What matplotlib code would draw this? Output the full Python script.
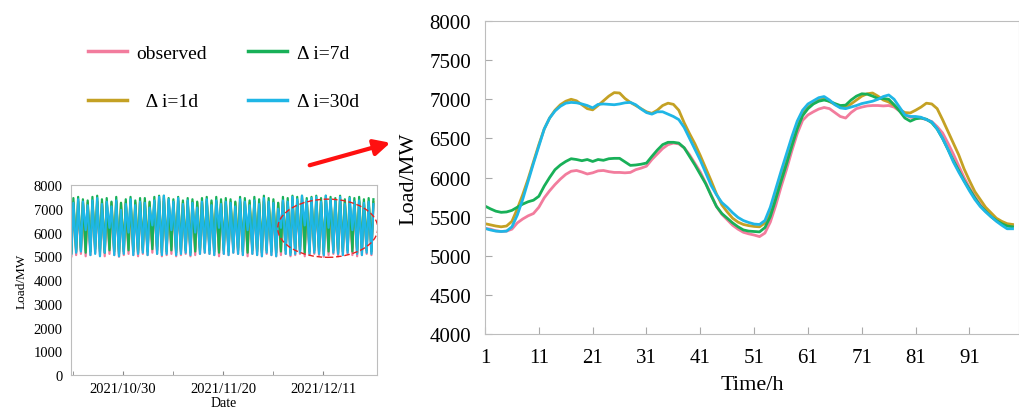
import matplotlib
matplotlib.use("Agg")
import matplotlib.pyplot as plt
import matplotlib.dates as mdates
from matplotlib.patches import Ellipse
from matplotlib.lines import Line2D
import numpy as np
import pandas as pd

plt.rcParams['font.family'] = ['Liberation Serif', 'DejaVu Serif']

# ---------------- zoomed window (right panel) ----------------
hours = list(range(1, 100))

observed = [5350, 5340, 5320, 5310, 5315, 5340, 5420, 5470, 5510, 5540,
            5620, 5740, 5830, 5910, 5980, 6040, 6080, 6090, 6070, 6045,
            6060, 6085, 6090, 6075, 6065, 6065, 6060, 6065, 6100, 6120,
            6145, 6230, 6300, 6370, 6420, 6440, 6430, 6380, 6290, 6180,
            6070, 5930, 5780, 5630, 5530, 5460, 5390, 5340, 5300, 5280,
            5265, 5245, 5290, 5430, 5640, 5880, 6100, 6340, 6560, 6730,
            6800, 6840, 6875, 6895, 6880, 6830, 6780, 6760, 6830, 6880,
            6900, 6915, 6920, 6920, 6915, 6920, 6900, 6850, 6800, 6770,
            6765, 6760, 6740, 6715, 6650, 6570, 6440, 6300, 6150, 6000,
            5870, 5760, 5660, 5580, 5510, 5450, 5420, 5400, 5390]

di_1d = [5410, 5395, 5380, 5370, 5380, 5440, 5600, 5780, 5980, 6200,
         6420, 6620, 6760, 6860, 6930, 6975, 7000, 6980, 6930, 6880,
         6865, 6920, 6980, 7040, 7085, 7080, 7010, 6960, 6920, 6880,
         6840, 6820, 6860, 6920, 6950, 6935, 6860, 6700, 6560, 6430,
         6280, 6120, 5960, 5790, 5650, 5560, 5480, 5430, 5400, 5385,
         5375, 5370, 5420, 5560, 5760, 5990, 6220, 6450, 6660, 6820,
         6900, 6950, 6990, 7005, 6970, 6935, 6905, 6895, 6940, 6990,
         7040, 7070, 7080, 7040, 6990, 6965, 6920, 6870, 6830, 6825,
         6860, 6900, 6950, 6940, 6880, 6740, 6590, 6440, 6290, 6110,
         5960, 5820, 5720, 5620, 5550, 5480, 5440, 5410, 5400]

di_7d = [5635, 5600, 5570, 5555, 5560, 5580, 5620, 5660, 5690, 5710,
         5760, 5890, 6000, 6100, 6160, 6205, 6240, 6230, 6215, 6230,
         6205, 6230, 6220, 6240, 6245, 6245, 6200, 6155, 6160, 6170,
         6185, 6270, 6350, 6420, 6450, 6450, 6440, 6380, 6270, 6160,
         6040, 5920, 5770, 5630, 5540, 5480, 5420, 5370, 5330, 5315,
         5310, 5305, 5360, 5500, 5720, 5950, 6170, 6400, 6620, 6790,
         6880, 6940, 6975, 6990, 6975, 6945, 6920, 6925, 6990, 7040,
         7070, 7065, 7040, 7010, 7010, 7000, 6930, 6850, 6760, 6720,
         6750, 6760, 6745, 6700, 6620, 6500, 6360, 6220, 6090, 5960,
         5850, 5740, 5640, 5570, 5500, 5450, 5410, 5380, 5370]

di_30d = [5350, 5330, 5315, 5310, 5315, 5370, 5520, 5720, 5950, 6180,
          6400, 6620, 6760, 6850, 6910, 6950, 6960, 6955, 6940, 6920,
          6890, 6935, 6940, 6935, 6930, 6940, 6955, 6960, 6930, 6875,
          6830, 6810, 6840, 6840, 6810, 6780, 6740, 6640, 6500, 6360,
          6220, 6060, 5900, 5780, 5680, 5620, 5550, 5490, 5450, 5425,
          5405, 5400, 5450, 5620, 5850, 6080, 6300, 6520, 6720, 6860,
          6940, 6980, 7020, 7035, 6990, 6930, 6890, 6880, 6900, 6920,
          6945, 6960, 6975, 7000, 7035, 7055, 7000, 6900, 6800, 6780,
          6780, 6770, 6740, 6710, 6620, 6500, 6360, 6200, 6070, 5950,
          5830, 5720, 5630, 5560, 5500, 5440, 5390, 5345, 5345]

# ---------------- full period (left panel): daily peak / trough ----------------
start_day = "2021-10-19"
n_days = 64

obs_peak = [7250, 7300, 7250, 7150, 7300, 7300, 7200, 7250, 7100, 7300,
            7000, 7200, 7300, 7150, 7250, 7250, 7100, 7300, 7400, 7450,
            7350, 7250, 7350, 7200, 7300, 7250, 7100, 7250, 7350, 7150,
            7300, 7200, 7250, 7200, 7100, 7300, 7250, 7150, 7300, 7200,
            7350, 7250, 7200, 7050, 7300, 7250, 7400, 7350, 7450, 7300,
            7350, 7400, 7250, 7450, 7350, 7300, 7400, 7200, 7350, 7250,
            7300, 7200, 7250, 7200]
obs_trough = [5000, 5050, 5100, 5000, 5050, 5150, 5050, 5000, 5100, 5050,
              4980, 5050, 5100, 5050, 5000, 5100, 5050, 5150, 5100, 5000,
              5050, 5100, 5000, 5050, 5100, 5000, 5050, 5100, 5150, 5100,
              5050, 5000, 5100, 5050, 5150, 5100, 5050, 5000, 5100, 5050,
              5000, 5100, 5050, 5000, 5050, 5100, 5000, 5050, 5100, 5000,
              5050, 5100, 5050, 4980, 5050, 5100, 5000, 5050, 5100, 5050,
              5000, 5050, 5100, 5050]

d1_peak = [7280, 7300, 7290, 7270, 7300, 7310, 7280, 7290, 7260, 7300,
           7250, 7280, 7300, 7270, 7290, 7300, 7260, 7290, 7310, 7320,
           7300, 7290, 7310, 7280, 7300, 7290, 7260, 7290, 7300, 7270,
           7300, 7280, 7290, 7280, 7260, 7300, 7290, 7270, 7300, 7280,
           7310, 7290, 7280, 7250, 7300, 7290, 7310, 7300, 7320, 7300,
           7310, 7320, 7290, 7320, 7300, 7300, 7310, 7280, 7310, 7290,
           7300, 7280, 7290, 7280]
d1_trough = [5250, 5300, 5350, 5250, 5300, 5400, 5300, 5250, 5350, 5300,
             5200, 5300, 5350, 5300, 5250, 5350, 5300, 5450, 5400, 5350,
             5300, 5400, 5250, 5300, 5350, 5250, 5300, 5350, 5400, 5350,
             5300, 5250, 5350, 5300, 5400, 5350, 5300, 5250, 5350, 5300,
             5250, 5400, 5350, 5300, 5350, 5400, 5300, 5350, 5400, 5300,
             5350, 5400, 5350, 5250, 5350, 5400, 5300, 5350, 5400, 5350,
             5300, 5350, 5400, 5350]

d7_peak = [7450, 7500, 7400, 7350, 7500, 7550, 7400, 7450, 7300, 7500,
           7250, 7400, 7500, 7350, 7450, 7450, 7300, 7500, 7550, 7550,
           7450, 7400, 7500, 7350, 7450, 7400, 7300, 7450, 7500, 7350,
           7500, 7400, 7450, 7400, 7300, 7500, 7450, 7350, 7500, 7400,
           7550, 7450, 7400, 7250, 7500, 7450, 7550, 7500, 7550, 7450,
           7500, 7550, 7450, 7550, 7500, 7450, 7550, 7400, 7500, 7450,
           7500, 7400, 7450, 7400]
d7_trough = [5150, 5200, 5250, 5150, 5200, 5300, 5200, 5150, 5250, 5200,
             5100, 5200, 5250, 5200, 5150, 5250, 5200, 5300, 5250, 5150,
             5200, 5250, 5150, 5200, 5250, 5150, 5200, 5250, 5300, 5250,
             5200, 5150, 5250, 5200, 5300, 5250, 5200, 5150, 5250, 5200,
             5150, 5250, 5200, 5150, 5200, 5250, 5150, 5200, 5250, 5150,
             5200, 5250, 5200, 5100, 5200, 5250, 5150, 5200, 5250, 5200,
             5150, 5200, 5250, 5200]

d30_peak = [7250, 7400, 7300, 7150, 7350, 7450, 7200, 7300, 7100, 7350,
            6950, 7200, 7400, 7150, 7300, 7250, 7050, 7350, 7500, 7550,
            7400, 7300, 7450, 7200, 7350, 7250, 7050, 7300, 7400, 7150,
            7350, 7200, 7300, 7250, 7100, 7400, 7300, 7150, 7350, 7200,
            7450, 7300, 7250, 7000, 7350, 7300, 7500, 7400, 7550, 7350,
            7450, 7500, 7300, 7550, 7400, 7350, 7500, 7200, 7450, 7300,
            7350, 7250, 7300, 7200]
d30_trough = [5100, 5150, 5200, 6100, 5050, 5100, 5000, 5150, 6200, 5050,
              5000, 5100, 6000, 5050, 5100, 5150, 5050, 6300, 5100, 5050,
              5100, 6100, 5050, 5100, 5150, 5050, 6000, 5100, 5150, 5100,
              5050, 6200, 5100, 5050, 5150, 5100, 5050, 6100, 5100, 5050,
              5000, 5150, 5050, 5000, 6200, 5100, 5050, 5100, 5150, 6300,
              5100, 5150, 5100, 5050, 6200, 5150, 5100, 5050, 5150, 6100,
              5100, 5050, 5150, 5100]

c_obs = '#f27c9d'
c_1d = '#c4a124'
c_7d = '#18b058'
c_30d = '#1fb6e6'
frame_c = '#bdbdbd'

fig = plt.figure(figsize=(10.2, 4.1), dpi=100)

# ---------------- left panel ----------------
days = pd.date_range(start_day, periods=n_days, freq='D')
t_trough = days + pd.Timedelta(hours=4)
t_peak = days + pd.Timedelta(hours=14)
t_all = np.empty(2 * n_days, dtype='datetime64[ns]')
t_all[0::2] = t_trough.values
t_all[1::2] = t_peak.values


def zigzag(trough, peak):
    v = np.empty(2 * n_days)
    v[0::2] = trough
    v[1::2] = peak
    return v


ax1 = fig.add_axes([0.0696, 0.0829, 0.300, 0.4634])
ax1.plot(t_all, zigzag(obs_trough, obs_peak), color=c_obs, lw=1.6)
ax1.plot(t_all, zigzag(d1_trough, d1_peak), color=c_1d, lw=1.6)
ax1.plot(t_all, zigzag(d7_trough, d7_peak), color=c_7d, lw=1.6)
ax1.plot(t_all, zigzag(d30_trough, d30_peak), color=c_30d, lw=1.6)
ax1.set_xlim(pd.Timestamp('2021-10-19 02:00'), pd.Timestamp('2021-12-22 08:00'))
ax1.set_ylim(0, 8000)
ax1.set_yticks(range(0, 8001, 1000))
major = [pd.Timestamp(d) for d in ['2021-10-30', '2021-11-20', '2021-12-11']]
minor = [pd.Timestamp(d) for d in ['2021-10-19 12:00', '2021-11-09 12:00', '2021-11-30 12:00']]
ax1.set_xticks(major)
ax1.set_xticks(minor, minor=True)
ax1.xaxis.set_major_formatter(mdates.DateFormatter('%Y/%m/%d'))
ax1.tick_params(axis='x', which='both', direction='in', length=3, color='#888888',
                labelsize=10.5, pad=5)
ax1.tick_params(axis='y', length=0, labelsize=10.5, pad=6)
for s in ax1.spines.values():
    s.set_color(frame_c)
ax1.set_ylabel('Load/MW', fontsize=9.5, labelpad=4)
ax1.set_xlabel('Date', fontsize=10, labelpad=1)

ell = Ellipse((mdates.date2num(pd.Timestamp('2021-12-12 00:00')), 6180), width=21, height=2450,
              fill=False, edgecolor='#e8231f', lw=1.0, ls=(0, (4, 2)), zorder=5)
ax1.add_patch(ell)

# ---------------- right panel ----------------
ax2 = fig.add_axes([0.4755, 0.1829, 0.5235, 0.7634])
ax2.plot(hours, observed, color=c_obs, lw=2.0)
ax2.plot(hours, di_1d, color=c_1d, lw=2.0)
ax2.plot(hours, di_7d, color=c_7d, lw=2.0)
ax2.plot(hours, di_30d, color=c_30d, lw=2.0)
ax2.set_xlim(1, 100.2)
ax2.set_ylim(4000, 8000)
ax2.set_xticks(range(1, 92, 10))
ax2.set_yticks(range(4000, 8001, 500))
ax2.tick_params(direction='in', length=5, color='#aaaaaa', labelsize=15, pad=10)
for s in ax2.spines.values():
    s.set_color(frame_c)
ax2.set_xlabel('Time/h', fontsize=16, labelpad=6)
ax2.set_ylabel('Load/MW', fontsize=16, labelpad=8)

# ---------------- legend ----------------
handles = [Line2D([], [], color=c_obs, lw=2.5),
           Line2D([], [], color=c_1d, lw=2.5),
           Line2D([], [], color=c_7d, lw=2.5),
           Line2D([], [], color=c_30d, lw=2.5)]
labels = ['observed', '  Δ i=1d', 'Δ i=7d', 'Δ i=30d']
fig.legend(handles, labels, ncol=2, loc='upper left',
           bbox_to_anchor=(88 / 1020, 1 - 45 / 410), frameon=False,
           fontsize=14, handlelength=2.0, handletextpad=0.5,
           columnspacing=2.1, labelspacing=1.6, borderpad=0, borderaxespad=0)

# ---------------- arrow ----------------
fig.add_artist(plt.Annotation('', xy=(393 / 1020, 1 - 143 / 410),
                              xytext=(307 / 1020, 1 - 167 / 410),
                              xycoords='figure fraction', textcoords='figure fraction',
                              arrowprops=dict(arrowstyle='-|>', color='#ff1010', lw=3,
                                              mutation_scale=24)))

fig.savefig('out.png', dpi=100)
